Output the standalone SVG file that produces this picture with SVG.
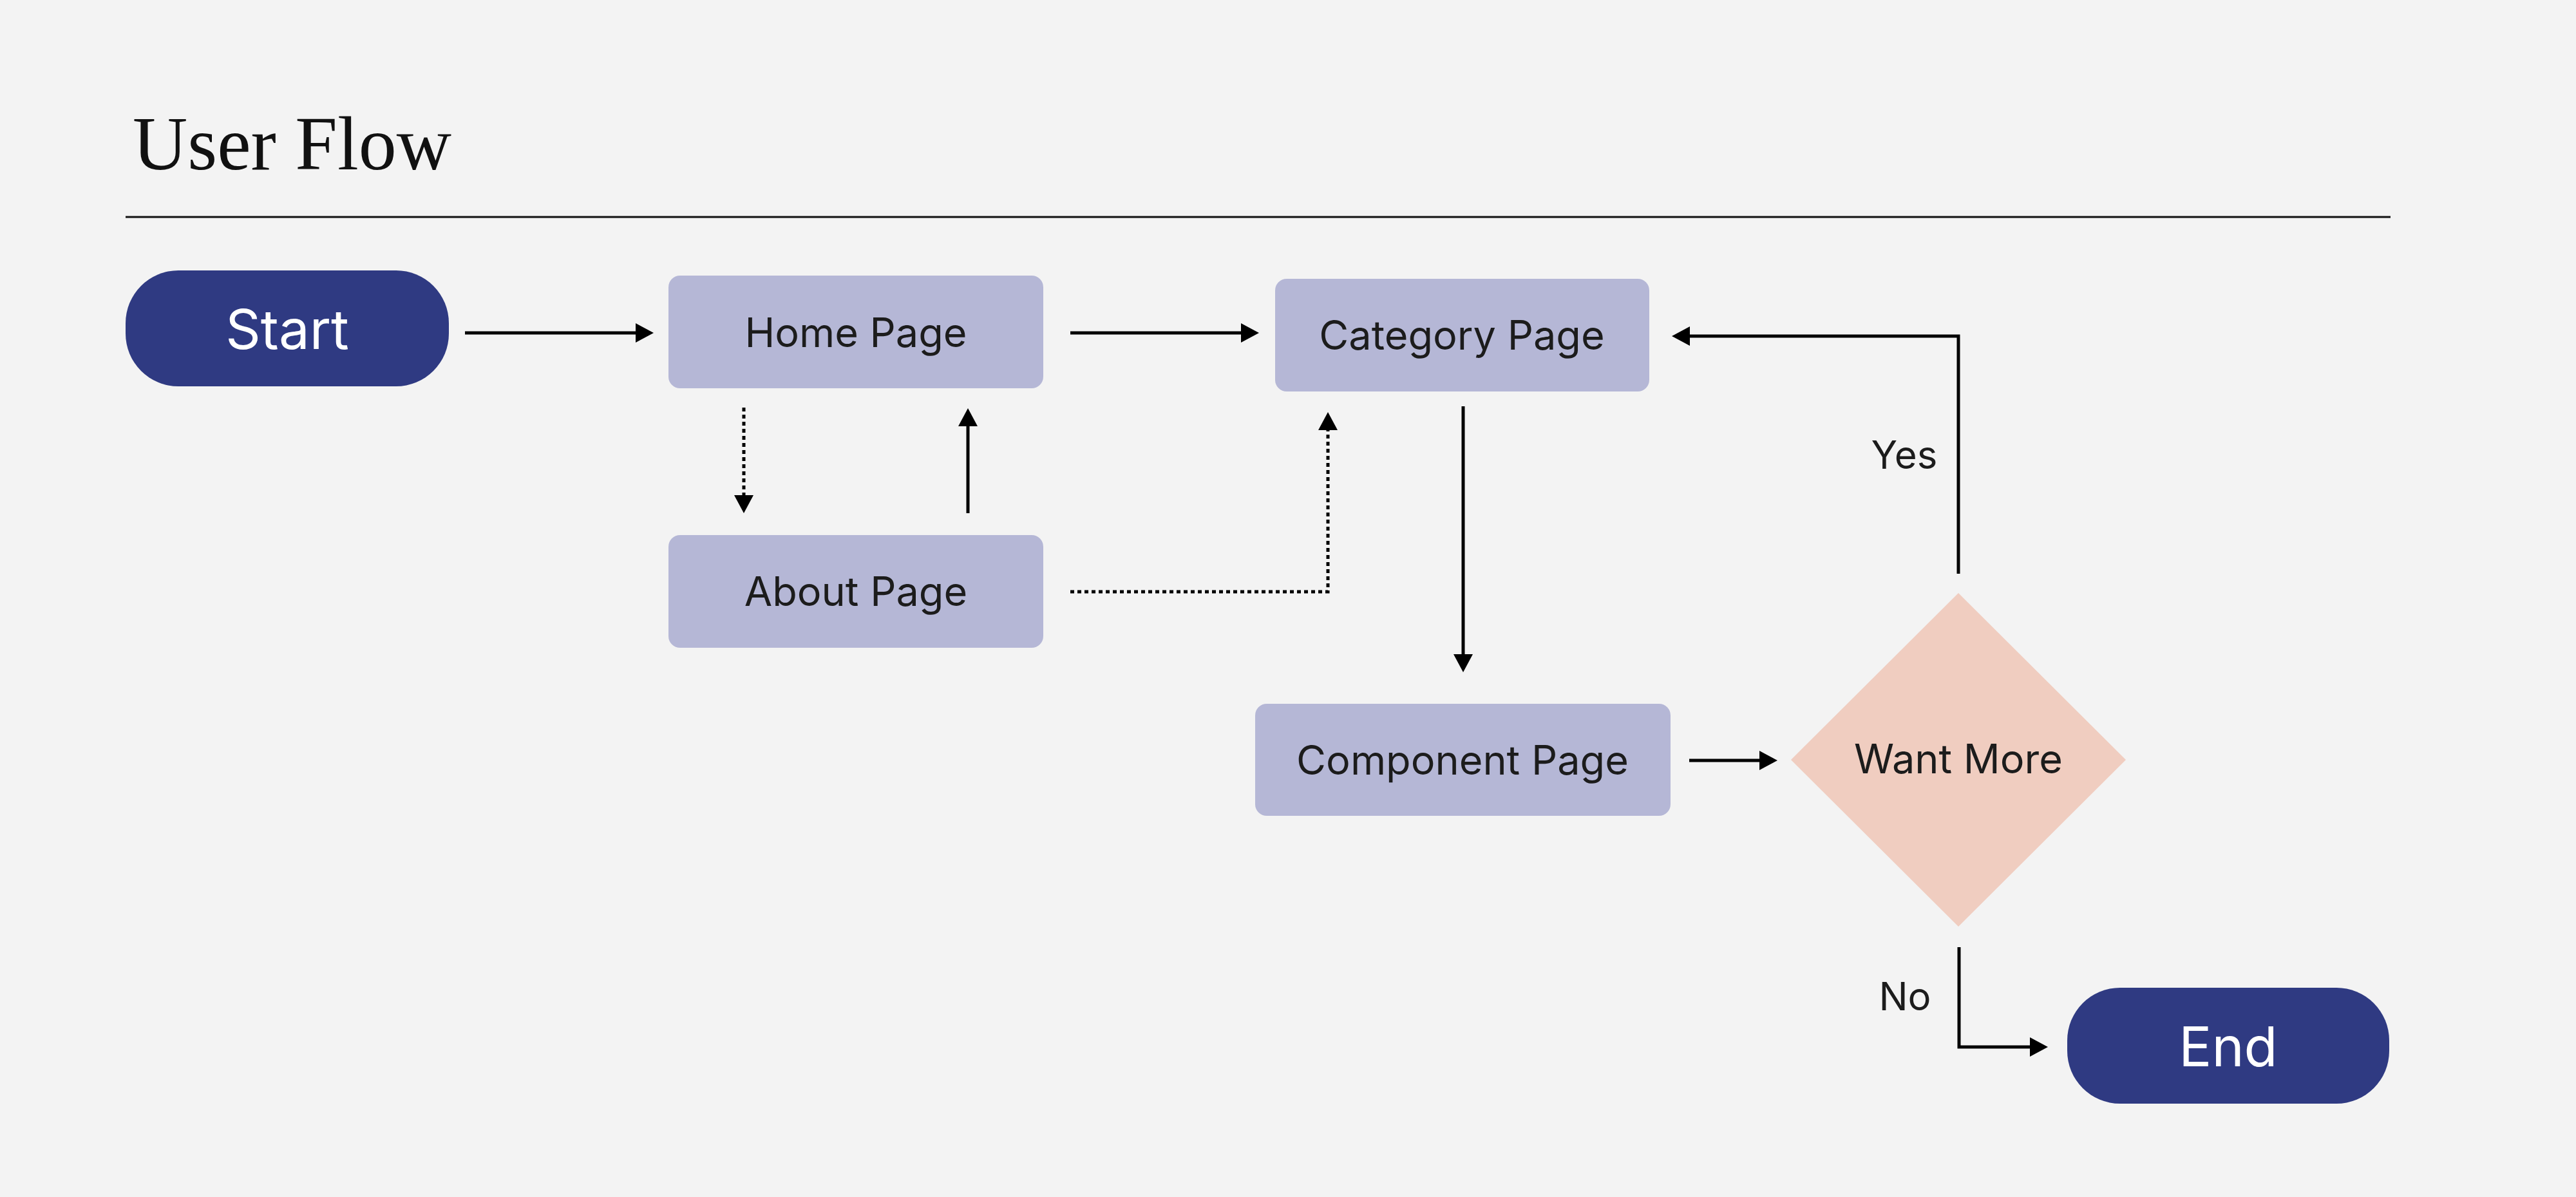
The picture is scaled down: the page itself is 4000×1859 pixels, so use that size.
<svg xmlns="http://www.w3.org/2000/svg" width="4000" height="1859" viewBox="0 0 4000 1859">
<defs>
<style>
.bg{fill:#f3f3f3}
.pill{fill:#2f3a82}
.box{fill:#b5b7d6}
.dia{fill:#f0cdc0}
.lbl{font-family:Inter,"Noto Sans","Liberation Sans",sans-serif;font-size:63px;fill:#1c1c1c;text-anchor:middle}
.plbl{font-family:Inter,"Noto Sans","Liberation Sans",sans-serif;font-size:85px;fill:#ffffff;text-anchor:middle}
.elbl{font-family:Inter,"Noto Sans","Liberation Sans",sans-serif;font-size:60px;fill:#1c1c1c;text-anchor:middle}
.title{font-family:"Liberation Serif","Times New Roman",serif;font-size:118px;fill:#111111}
.con{fill:none;stroke:#000000;stroke-width:5}
.dot{stroke-dasharray:6 5}
</style>
<marker id="ah" markerUnits="userSpaceOnUse" markerWidth="28" markerHeight="30" viewBox="0 0 28 30" refX="8" refY="15" orient="auto">
<path d="M0,0 L28,15 L0,30 Z" fill="#000000"/>
</marker>
</defs>
<rect class="bg" x="0" y="0" width="4000" height="1859"/>
<g id="header">
<text class="title" x="206" y="263">User Flow</text>
<line x1="195" y1="337" x2="3712" y2="337" stroke="#111111" stroke-width="3"/>
</g>
<g id="connectors">
<path class="con" d="M722,517 H995" marker-end="url(#ah)"/>
<path class="con" d="M1662,517 H1935" marker-end="url(#ah)"/>
<path class="con dot" d="M1155,633 V777" marker-end="url(#ah)"/>
<path class="con" d="M1503,797 V654" marker-end="url(#ah)"/>
<path class="con dot" d="M1662,919 H2062 V660" marker-end="url(#ah)"/>
<path class="con" d="M2272,631 V1024" marker-end="url(#ah)"/>
<path class="con" d="M2623,1181 H2740" marker-end="url(#ah)"/>
<path class="con" d="M3041,891 V522 H2616" marker-end="url(#ah)"/>
<path class="con" d="M3042,1471 V1626 H3160" marker-end="url(#ah)"/>
<text class="elbl" x="2957" y="728">Yes</text>
<text class="elbl" x="2958" y="1569">No</text>
</g>
<g id="start">
<rect class="pill" x="195" y="420" width="502" height="180" rx="82" ry="82"/>
<text class="plbl" x="446" y="542">Start</text>
</g>
<g id="home">
<rect class="box" x="1038" y="428" width="582" height="175" rx="18" ry="18"/>
<text class="lbl" x="1329" y="539">Home Page</text>
</g>
<g id="about">
<rect class="box" x="1038" y="831" width="582" height="175" rx="18" ry="18"/>
<text class="lbl" x="1329" y="941">About Page</text>
</g>
<g id="category">
<rect class="box" x="1980" y="433" width="581" height="175" rx="18" ry="18"/>
<text class="lbl" x="2270" y="543">Category Page</text>
</g>
<g id="component">
<rect class="box" x="1949" y="1093" width="645" height="174" rx="18" ry="18"/>
<text class="lbl" x="2271" y="1203">Component Page</text>
</g>
<g id="wantmore">
<polygon class="dia" points="3041,921 3301,1180 3041,1439 2781,1180"/>
<text class="lbl" x="3041" y="1201">Want More</text>
</g>
<g id="end">
<rect class="pill" x="3210" y="1534" width="500" height="180" rx="82" ry="82"/>
<text class="plbl" x="3460" y="1656">End</text>
</g>
</svg>
